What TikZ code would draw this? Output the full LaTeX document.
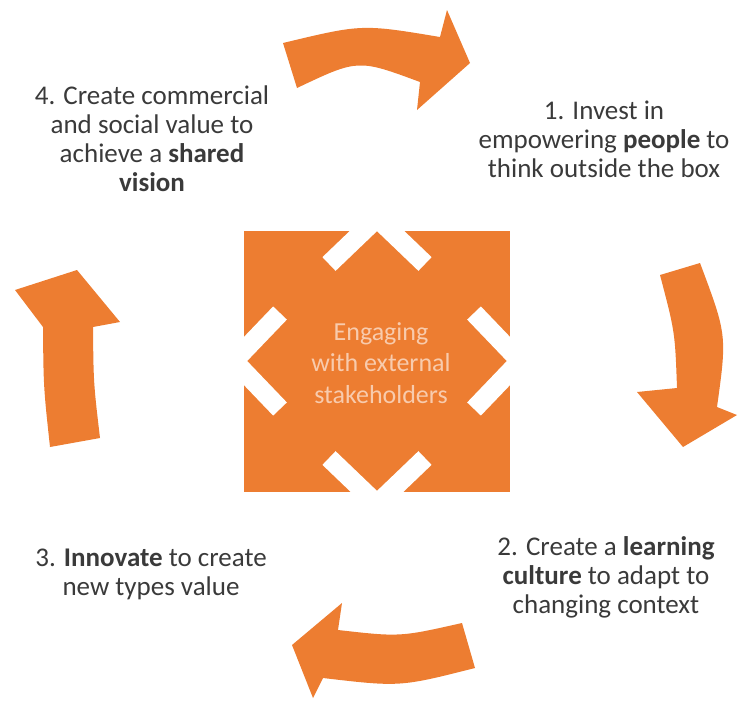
\documentclass[tikz,border=0pt]{standalone}
\usepackage{fontspec}
\setmainfont{Carlito}
\definecolor{cycleorange}{HTML}{ED7D31}
\definecolor{cyclepeach}{HTML}{F8CBAD}
\definecolor{cycletext}{HTML}{3A3A3A}
\tikzset{CycleChart/.style={
    x=1pt, y=-1pt,
    stage/.style = {anchor=north, align=center, inner sep=0pt, text=cycletext, font=\fontsize{27}{29}\selectfont},
    hub/.style = {anchor=north, align=center, inner sep=0pt, text=cyclepeach, font=\fontsize{26}{31.5}\selectfont},
    bent arrow/.style = {fill=cycleorange},
    notch/.style = {draw=white, line width=19pt}
}}

\begin{document}
\begin{tikzpicture}[CycleChart]
    \useasboundingbox (0,0) rectangle (738,702);

    % centre block with the four white chevrons
    \fill [cycleorange] (244,231) rectangle (510,492);
    \foreach \ang in {0,90,180,270}
        \draw [notch, shift={(377,361)}, rotate=\ang] (-48,-97) -- (0,-143) -- (48,-97);
    \node [hub] (hub) at (381,322) {Engaging\\with external\\stakeholders};

    % curved arrows, clockwise
    \fill [bent arrow] (283,43) .. controls (362,24) .. (440,37) -- (447,10) -- (470,63)
        -- (417,110) -- (420,82) .. controls (358,59) .. (297,88) -- cycle;
    \fill [bent arrow] (660,275) -- (700,263) .. controls (727,335) .. (717,407) -- (737,415)
        -- (683,447) -- (637,392) -- (677,388) .. controls (675,332) .. (660,275) -- cycle;
    \fill [bent arrow] (462,623) -- (475,668) .. controls (400,687) .. (323,678) -- (313,698)
        -- (292,645) -- (342,603) -- (338,630) .. controls (400,637) .. (462,623) -- cycle;
    \fill [bent arrow] (50,447) .. controls (43.5,387) .. (43,327) -- (15,290) -- (77,270)
        -- (120,322) -- (93,327) .. controls (93.5,383) .. (100,438) -- cycle;

    \node [stage] (stage1) at (604,100.5) {1. Invest in\\empowering \textbf{people} to\\think outside the box};
    \node [stage] (stage2) at (606,536.6) {2. Create a \textbf{learning}\\\textbf{culture} to adapt to\\changing context};
    \node [stage] (stage3) at (151,549) {3. \textbf{Innovate} to create\\new types value};
    \node [stage] (stage4) at (152,85.6) {4. Create commercial\\and social value to\\achieve a \textbf{shared}\\\textbf{vision}};
\end{tikzpicture}
\end{document}
